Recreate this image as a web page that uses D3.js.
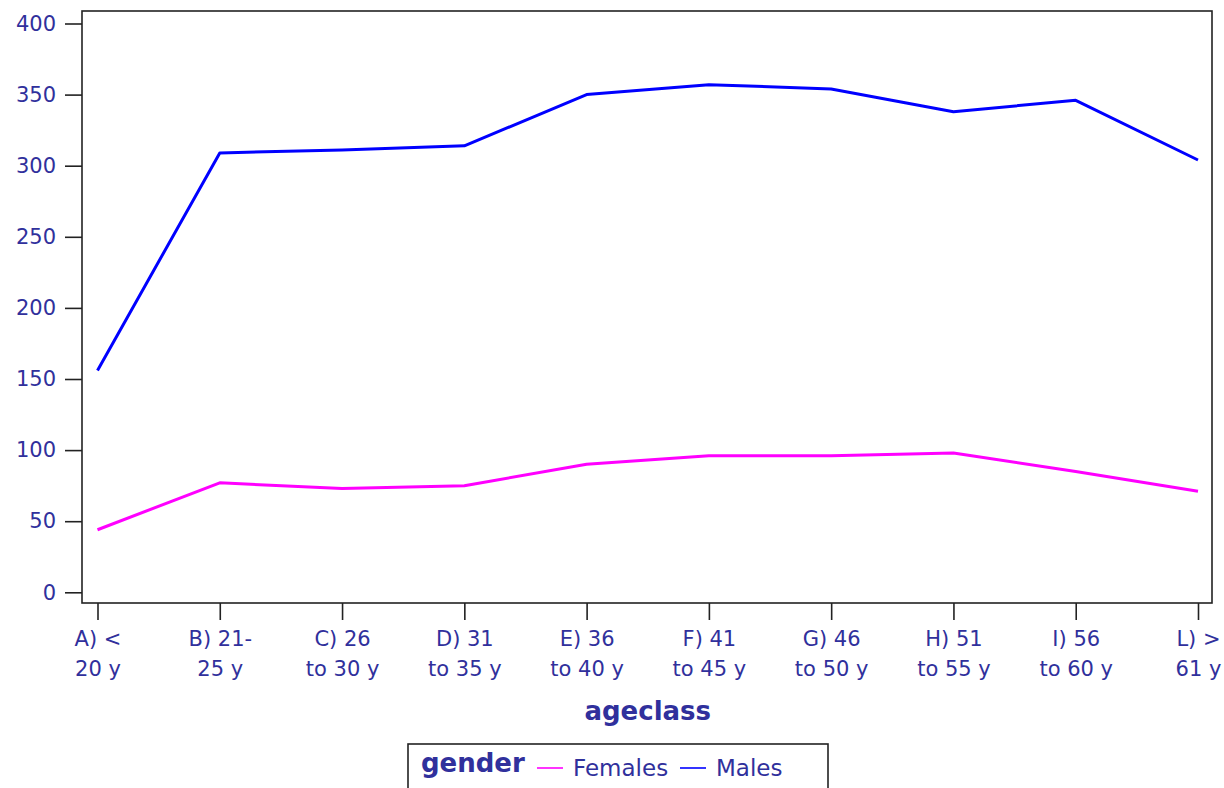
<!DOCTYPE html>
<html>
<head>
<meta charset="utf-8">
<script src="https://cdn.jsdelivr.net/npm/d3@7"></script>
<style>
  body { margin: 0; background: #fff; }
  svg text { font-family: "DejaVu Sans", Verdana, sans-serif; fill: #30309c; }
</style>
</head>
<body>
<svg id="chart" width="1224" height="788"></svg>
<script>
// age classes, two text lines each
var ageLine1 = ["A) <", "B) 21-", "C) 26", "D) 31", "E) 36", "F) 41", "G) 46", "H) 51", "I) 56", "L) >"];
var ageLine2 = ["20 y", "25 y", "to 30 y", "to 35 y", "to 40 y", "to 45 y", "to 50 y", "to 55 y", "to 60 y", "61 y"];

var females = [44, 77, 73, 75, 90, 96, 96, 98, 85, 71];
var males = [156, 309, 311, 314, 350, 357, 354, 338, 346, 304];

var yTicks = [0, 50, 100, 150, 200, 250, 300, 350, 400];

var seriesNames = ["Females", "Males"];
var seriesColors = ["#ff00ff", "#0000ff"];

var margin = { top: 11, right: 12, bottom: 185, left: 82 };
var width = 1224 - margin.left - margin.right;
var height = 788 - margin.top - margin.bottom;

var svg = d3.select("#chart");
var chart = svg.append("g")
    .attr("transform", "translate(" + margin.left + "," + margin.top + ")");

var x = d3.scalePoint()
    .domain(d3.range(ageLine1.length))
    .range([15.5, width - 14]);

var y = d3.scaleLinear()
    .domain([0, 400])
    .range([581.3, 12.5]);

// frame
chart.append("rect")
    .attr("width", width)
    .attr("height", height)
    .attr("fill", "none")
    .attr("stroke", "#222")
    .attr("stroke-width", 1.6);

// y axis
var yAxis = chart.append("g")
    .call(d3.axisLeft(y).tickValues(yTicks).tickSize(17).tickPadding(9));
yAxis.select(".domain").remove();
yAxis.selectAll(".tick line").attr("stroke", "#222").attr("stroke-width", 1.6);
yAxis.selectAll(".tick text")
    .attr("font-size", 21)
    .style("font-family", "DejaVu Sans")
    .attr("fill", "#30309c");

// x axis
var xAxis = chart.append("g")
    .attr("transform", "translate(0," + height + ")")
    .call(d3.axisBottom(x).tickSize(17).tickFormat(""));
xAxis.select(".domain").remove();
xAxis.selectAll(".tick line").attr("stroke", "#222").attr("stroke-width", 1.6);
xAxis.selectAll(".tick").each(function(d) {
    var t = d3.select(this).append("text")
        .attr("text-anchor", "middle")
        .attr("font-size", 21)
        .attr("fill", "#30309c");
    t.append("tspan").attr("x", 0).attr("y", 43).text(ageLine1[d]);
    t.append("tspan").attr("x", 0).attr("y", 73).text(ageLine2[d]);
});

// axis title
chart.append("text")
    .attr("x", (x(4) + x(5)) / 2)
    .attr("y", height + 117)
    .attr("text-anchor", "middle")
    .attr("font-size", 26)
    .attr("font-weight", "bold")
    .text("ageclass");

// lines
var line = d3.line()
    .x(function(d, i) { return x(i); })
    .y(function(d) { return y(d); });

[females, males].forEach(function(values, i) {
    chart.append("path")
        .datum(values)
        .attr("fill", "none")
        .attr("stroke", seriesColors[i])
        .attr("stroke-width", 3)
        .attr("stroke-linejoin", "round")
        .attr("d", line);
});

// legend
var legend = svg.append("g").attr("transform", "translate(408,744)");
legend.append("rect")
    .attr("width", 420)
    .attr("height", 60)
    .attr("fill", "none")
    .attr("stroke", "#222")
    .attr("stroke-width", 1.6);
legend.append("text")
    .attr("x", 13)
    .attr("y", 28)
    .attr("font-size", 26)
    .attr("font-weight", "bold")
    .text("gender");

var legendX = [129, 272];
seriesNames.forEach(function(name, i) {
    legend.append("line")
        .attr("x1", legendX[i])
        .attr("x2", legendX[i] + 26)
        .attr("y1", 24)
        .attr("y2", 24)
        .attr("stroke", seriesColors[i])
        .attr("stroke-width", 1.6);
    legend.append("text")
        .attr("x", legendX[i] + 36)
        .attr("y", 32)
        .attr("font-size", 23)
        .text(name);
});
</script>
</body>
</html>
